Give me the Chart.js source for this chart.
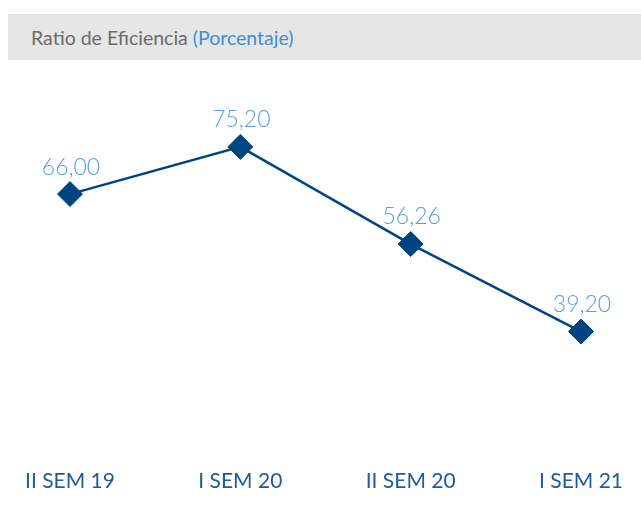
<!DOCTYPE html>
<html>
<head>
<meta charset="utf-8">
<script src="https://cdn.jsdelivr.net/npm/chart.js@4"></script>
<style>
  html, body { margin:0; padding:0; background:#fff; }
  body { width:641px; height:507px; position:relative; overflow:hidden; font-family:"Lato","Open Sans",sans-serif; }
  #hdr { position:absolute; left:8px; top:14px; width:633px; height:46px; background:#e6e6e6; }
  #hdr span.t { position:absolute; left:23px; top:12px; font-size:19.5px; line-height:24px; color:#6b6b6b; font-weight:400; white-space:nowrap; }
  #hdr span.p { color:#3d8fd6; }
  #wrap { position:absolute; left:0; top:0; width:641px; height:507px; }
</style>
</head>
<body>
<div id="hdr"><span class="t">Ratio de Eficiencia <span class="p">(Porcentaje)</span></span></div>
<div id="wrap"><canvas id="c" width="641" height="507"></canvas></div>
<script>
const categories = ["II SEM 19", "I SEM 20", "II SEM 20", "I SEM 21"];
const ratioValues = [66.00, 75.20, 56.26, 39.20];
const valueLabels = ["66,00", "75,20", "56,26", "39,20"];

const labelPlugin = {
  id: 'valueLabels',
  afterDatasetsDraw(chart) {
    const ctx = chart.ctx;
    const meta = chart.getDatasetMeta(0);
    ctx.save();
    ctx.font = '300 23px "Lato", "Open Sans", sans-serif';
    ctx.fillStyle = '#5b9fdc';
    ctx.textAlign = 'center';
    ctx.textBaseline = 'middle';
    meta.data.forEach((pt, i) => {
      ctx.fillText(valueLabels[i], pt.x + 1, pt.y - 27);
    });
    ctx.restore();
  }
};

new Chart(document.getElementById('c'), {
  type: 'line',
  data: {
    labels: categories,
    datasets: [{
      data: ratioValues,
      borderColor: '#004481',
      backgroundColor: '#004481',
      borderWidth: 2.5,
      pointStyle: 'rectRot',
      pointRadius: 12.5,
      pointHoverRadius: 12.5,
      pointBorderWidth: 1,
      pointBackgroundColor: '#004481',
      pointBorderColor: '#004481',
      tension: 0,
      fill: false
    }]
  },
  options: {
    responsive: false,
    animation: false,
    events: [],
    layout: { padding: { left: 70, right: 60, top: 71, bottom: 0 } },
    plugins: { legend: { display: false }, tooltip: { enabled: false } },
    scales: {
      x: {
        offset: false,
        afterFit(scale) {
          scale.paddingLeft = 0;
          scale.paddingRight = 0;
          scale.height = 77;
        },
        grid: { display: false, drawTicks: false },
        border: { display: false },
        ticks: {
          color: '#1f5b99',
          font: { family: '"Lato", "Open Sans", sans-serif', size: 21, weight: 400 },
          padding: 39,
          maxRotation: 0,
          autoSkip: false
        }
      },
      y: {
        display: false,
        min: 20,
        max: 90
      }
    }
  },
  plugins: [labelPlugin]
});
</script>
</body>
</html>
